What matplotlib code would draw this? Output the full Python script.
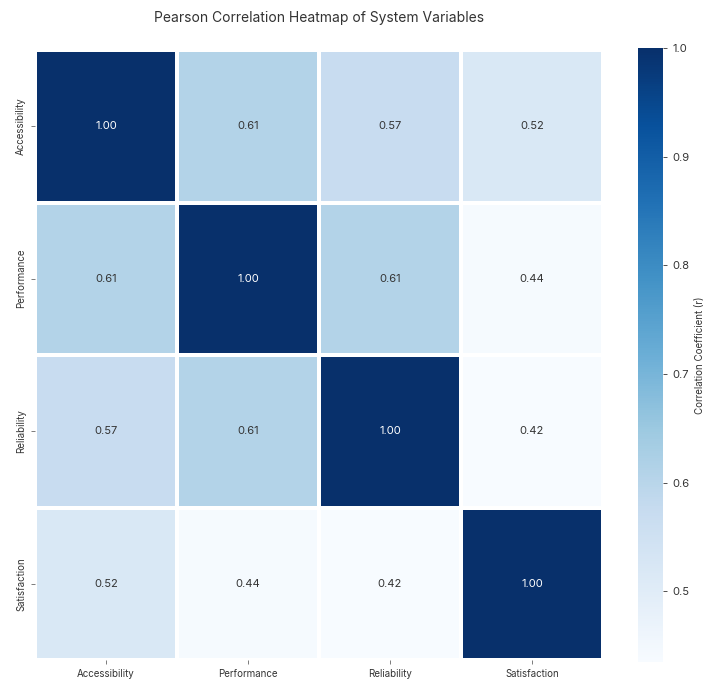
import matplotlib
matplotlib.use("Agg")
import matplotlib.pyplot as plt
import numpy as np

plt.rcParams['font.family'] = ['Inter', 'DejaVu Sans']

# correlation matrix of the survey variables
variables = ["Accessibility", "Performance", "Reliability", "Satisfaction"]
corr = np.array([
    [1.00, 0.61, 0.57, 0.52],
    [0.61, 1.00, 0.61, 0.44],
    [0.57, 0.61, 1.00, 0.42],
    [0.52, 0.44, 0.42, 1.00],
])
cbar_ticks = [0.5, 0.6, 0.7, 0.8, 0.9, 1.0]
# lower end of the colour scale
color_floor = 0.435

W, H = 704, 682
fig = plt.figure(figsize=(W / 100, H / 100), dpi=100)
ax = fig.add_axes([35 / W, 1 - 660 / H, 568 / W, 610 / H])
cax = fig.add_axes([638 / W, 1 - 662 / H, 25 / W, 614 / H])

mesh = ax.pcolormesh(corr, cmap="Blues", vmin=color_floor, vmax=corr.max(),
                     edgecolors="white", linewidth=1.5)
ax.set_xlim(0, len(variables))
ax.set_ylim(len(variables), 0)

for i in range(len(variables)):
    for j in range(len(variables)):
        val = corr[i, j]
        color = "white" if val > 0.8 else "#333333"
        ax.text(j + 0.5, i + 0.5, f"{val:.2f}", ha="center", va="center",
                fontsize=8, color=color)

ax.set_xticks(np.arange(len(variables)) + 0.5)
ax.set_xticklabels(variables, fontsize=7, color="#333333")
ax.set_yticks(np.arange(len(variables)) + 0.5)
ax.set_yticklabels(variables, fontsize=7, color="#333333", rotation=90, va="center")
ax.tick_params(length=3, width=0.6, color="#666666")
for s in ax.spines.values():
    s.set_visible(False)

fig.text(319 / W, 1 - 18 / H, "Pearson Correlation Heatmap of System Variables",
         fontsize=10, color="#333333", ha="center", va="center")

cbar = fig.colorbar(mesh, cax=cax, ticks=cbar_ticks)
cbar.outline.set_visible(False)
cbar.ax.tick_params(labelsize=8, length=3, width=0.6, colors="#333333")
cbar.set_label("Correlation Coefficient (r)", fontsize=7, color="#333333")

fig.savefig("out.png", dpi=100, facecolor="white")
